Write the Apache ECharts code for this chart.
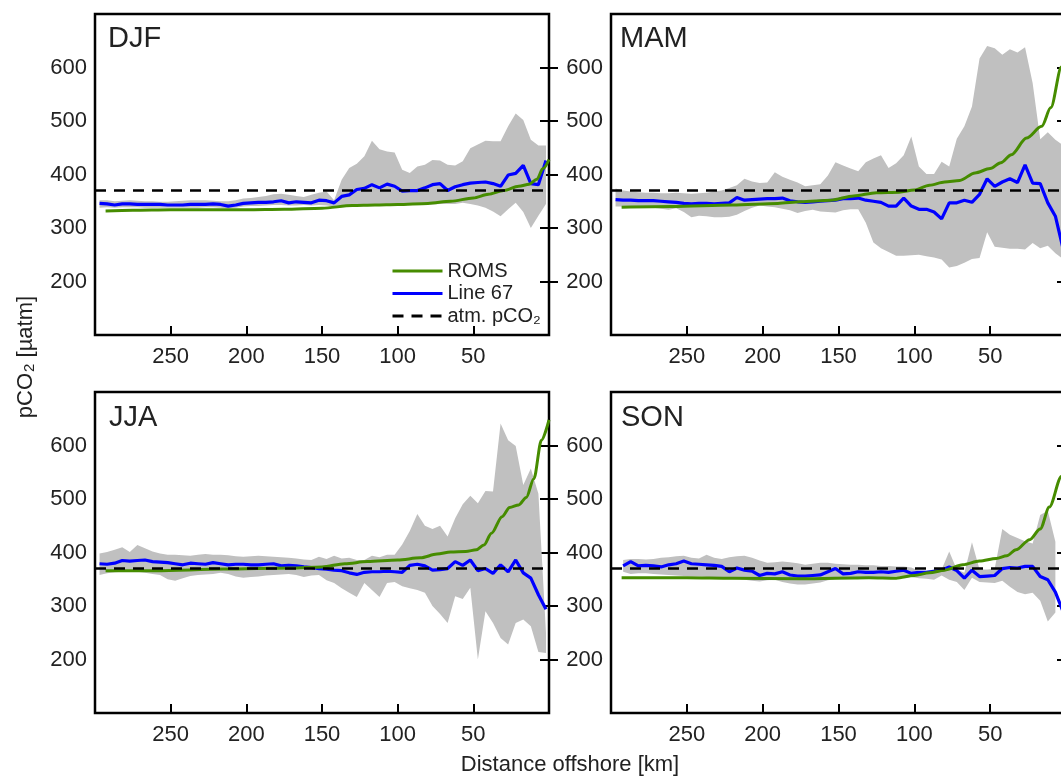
<!DOCTYPE html>
<html>
<head>
<meta charset="utf-8">
<title>pCO2 along Line 67</title>
<script src="https://cdn.jsdelivr.net/npm/echarts@6/dist/echarts.min.js"></script>
<style>
html, body { margin: 0; padding: 0; background: #fff; }
#chart { width: 1061px; height: 778px; }
</style>
</head>
<body>
<div id="chart"></div>
<script>
// distance offshore of the Line 67 samples [km]
var km = [297, 292, 287, 282, 277, 272, 267, 262, 257, 252,
          247, 242, 237, 232, 227, 222, 217, 212, 207, 202,
          197, 192, 187, 182, 177, 172, 167, 162, 157, 152,
          147, 142, 137, 132, 127, 122, 117, 112, 107, 102,
          97, 92, 87, 82, 77, 72, 67, 62, 57, 52,
          47, 42, 37, 32, 27, 22, 17, 12, 7, 2];

var atmPCO2 = 370;
var seasons = ['DJF', 'MAM', 'JJA', 'SON'];
var xTicks = [0, 50, 100, 150, 200, 250, 300];
var yTicks = [100, 200, 300, 400, 500, 600, 700];

// ---- DJF
var djfLine67 = [346, 345, 343, 345, 345, 344, 344, 344, 344, 343,
                 343, 343, 344, 344, 344, 345, 344, 341, 343, 346,
                 347, 348, 348, 349, 351, 347, 349, 348, 347, 352,
                 351, 347, 359, 362, 372, 374, 381, 375, 382, 378,
                 369, 370, 370, 375, 381, 383, 370, 377, 381, 384,
                 385, 386, 383, 378, 399, 402, 417, 383, 381, 426];
var djfHigh = [352, 352, 350, 351, 352, 351, 350, 350, 349, 349,
               350, 351, 352, 352, 352, 351, 350, 350, 352, 355,
               356, 358, 360, 363, 364, 362, 360, 358, 362, 366,
               368, 352, 390, 412, 420, 434, 463, 447, 443, 441,
               409, 403, 415, 418, 427, 426, 418, 417, 425, 449,
               456, 463, 462, 462, 490, 514, 502, 465, 454, 454];
var djfLow = [338, 339, 338, 339, 339, 339, 338, 338, 338, 338,
              338, 338, 338, 338, 339, 339, 338, 337, 338, 340,
              341, 341, 342, 343, 343, 342, 342, 343, 342, 343,
              342, 340, 342, 343, 343, 343, 344, 344, 344, 343,
              343, 343, 343, 343, 344, 345, 345, 345, 347, 345,
              342, 338, 331, 322, 335, 347, 330, 300, 323, 345];
var djfRomsKm = [293, 275, 250, 225, 200, 175, 150, 130, 115, 100, 80, 65, 50, 40, 30, 20, 13, 8, 4, 0];
var djfRoms = [332, 333, 334, 334, 334, 335, 337, 342, 343, 344, 346, 350, 356, 363, 370, 378, 382, 391, 411, 428];

// ---- MAM
var mamLine67 = [353, 352, 352, 351, 351, 351, 350, 349, 348, 346,
                 345, 346, 346, 345, 346, 347, 357, 352, 353, 354,
                 355, 355, 356, 351, 349, 348, 349, 350, 351, 352,
                 355, 355, 356, 352, 350, 348, 341, 341, 356, 341,
                 335, 335, 330, 317, 347, 347, 352, 348, 363, 392,
                 378, 386, 392, 385, 418, 384, 383, 347, 322, 262];
var mamHigh = [374, 370, 368, 367, 366, 366, 365, 365, 366, 365,
               364, 365, 366, 368, 370, 375, 380, 392, 387, 384,
               385, 404, 396, 390, 385, 378, 380, 382, 398, 423,
               417, 411, 406, 423, 430, 436, 412, 421, 436, 471,
               415, 401, 401, 424, 415, 467, 490, 527, 617, 640,
               636, 624, 634, 628, 638, 571, 466, 479, 465, 455];
var mamLow = [340, 340, 340, 339, 339, 338, 336, 334, 337, 330,
              320, 323, 322, 320, 320, 321, 325, 332, 338, 342,
              340, 339, 336, 333, 328, 332, 334, 331, 330, 329,
              333, 335, 335, 310, 273, 262, 255, 248, 248, 249,
              250, 247, 245, 241, 226, 229, 235, 242, 244, 292,
              265, 263, 261, 261, 260, 272, 262, 267, 253, 242];
var mamRomsKm = [293, 260, 220, 190, 175, 155, 140, 125, 110, 100, 90, 80, 70, 60, 50, 43, 36, 26, 16, 10, 3, 0];
var mamRoms = [339, 340, 343, 346, 349, 352, 360, 366, 367, 371, 380, 386, 389, 403, 411, 422, 437, 468, 490, 525, 601, 635];

// ---- JJA
var jjaLine67 = [379, 378, 380, 385, 384, 385, 386, 383, 382, 381,
                 379, 377, 380, 379, 378, 381, 379, 377, 378, 378,
                 377, 377, 378, 379, 375, 376, 375, 373, 372, 370,
                 369, 367, 366, 362, 359, 363, 364, 364, 365, 364,
                 363, 376, 378, 375, 367, 368, 370, 383, 376, 386,
                 366, 370, 361, 377, 364, 386, 362, 352, 321, 294];
var jjaHigh = [398, 401, 405, 410, 401, 414, 408, 402, 398, 396,
               396, 395, 394, 396, 397, 396, 396, 395, 393, 392,
               393, 394, 393, 392, 391, 390, 389, 387, 386, 392,
               388, 394, 389, 390, 386, 386, 394, 391, 396, 396,
               415, 440, 472, 450, 444, 450, 430, 464, 490, 506,
               492, 515, 514, 641, 610, 599, 526, 557, 510, 250];
var jjaLow = [358, 361, 363, 364, 365, 364, 362, 360, 358, 350,
              347, 352, 356, 358, 359, 360, 362, 360, 355, 353,
              354, 355, 357, 358, 359, 360, 358, 354, 357, 358,
              348, 343, 333, 325, 317, 343, 330, 317, 343, 345,
              337, 333, 330, 325, 300, 285, 268, 318, 313, 334,
              200, 290, 268, 240, 228, 268, 275, 262, 214, 212];
var jjaRomsKm = [293, 260, 215, 171, 150, 135, 120, 100, 85, 74, 65, 55, 48, 43, 38, 31, 26, 20, 15, 10, 5, 0];
var jjaRoms = [366, 366, 369, 371, 373, 379, 383, 386, 390, 397, 401, 402, 405, 414, 436, 467, 484, 489, 503, 538, 610, 648];

// ---- SON
var sonLine67 = [null, 375, 383, 375, 376, 375, 373, 377, 379, 384,
                 379, 378, 377, 376, 374, 364, 371, 367, 365, 357,
                 361, 360, 364, 358, 356, 356, 357, 358, 364, 370,
                 360, 361, 364, 363, 363, 364, 363, 365, 367, 361,
                 363, 363, 365, 367, 373, 366, 352, 367, 355, 356,
                 357, 370, 372, 371, 374, 374, 355, 349, 326, 290];
var sonHigh = [null, 386, 388, 388, 387, 388, 390, 391, 393, 394,
               390, 389, 396, 390, 388, 391, 393, 394, 390, 385,
               381, 382, 383, 382, 380, 377, 379, 381, 381, 379,
               378, 377, 377, 376, 376, 375, 375, 374, 374, 372,
               366, 366, 368, 368, 402, 368, 362, 419, 368, 368,
               370, 444, 433, 427, 421, 417, 470, 478, 420, null];
var sonLow = [null, 364, 360, 361, 361, 360, 359, 358, 357, 356,
              355, 355, 354, 353, 352, 352, 351, 349, 347, 346,
              348, 349, 345, 342, 340, 340, 342, 344, 348, 350,
              351, 351, 350, 352, 353, 353, 354, 355, 355, 354,
              352, 351, 349, 357, 349, 345, 330, 353, 345, 344,
              343, 347, 336, 326, 322, 325, 310, 271, 288, null];
var sonRomsKm = [293, 250, 220, 175, 130, 112, 100, 90, 80, 68, 57, 46, 39, 33, 24, 17, 11, 3, 0];
var sonRoms = [353, 353, 352, 351, 353, 352, 357, 362, 367, 377, 384, 389, 394, 405, 424, 444, 485, 542, 570];

var panels = [
  { line: djfLine67, high: djfHigh, low: djfLow, romsKm: djfRomsKm, roms: djfRoms },
  { line: mamLine67, high: mamHigh, low: mamLow, romsKm: mamRomsKm, roms: mamRoms },
  { line: jjaLine67, high: jjaHigh, low: jjaLow, romsKm: jjaRomsKm, roms: jjaRoms },
  { line: sonLine67, high: sonHigh, low: sonLow, romsKm: sonRomsKm, roms: sonRoms }
];

// layout of the four boxes (the right column runs past the page edge)
var boxes = [
  { left: 95, top: 14, width: 454, height: 321 },
  { left: 611, top: 14, width: 455, height: 321 },
  { left: 95, top: 392, width: 454, height: 321 },
  { left: 611, top: 392, width: 455, height: 321 }
];
var seasonPos = [[108, 39], [620, 39], [109, 418], [621, 418]];

var FONT = '"Liberation Sans", Arial, Helvetica, sans-serif';
var TEXT = '#222';
var GREEN = '#468c00';
var BLUE = '#0000ff';
var BAND = '#c0c0c0';
var ATM_NAME = 'atm. pCO\u2082';

function pairs(xs, ys) {
  var out = [];
  for (var i = 0; i < xs.length; i++) {
    if (ys[i] != null) out.push([xs[i], ys[i]]);
  }
  return out;
}

function bandSeries(i, low, high) {
  var pts = [];
  for (var j = 0; j < km.length; j++) {
    if (low[j] != null && high[j] != null) pts.push([km[j], low[j], high[j]]);
  }
  return {
    type: 'custom',
    xAxisIndex: i,
    yAxisIndex: 2 * i,
    silent: true,
    z: 1,
    data: pts,
    renderItem: function (params, api) {
      if (params.dataIndex !== 0) return null;
      var top = pts.map(function (p) { return api.coord([p[0], p[2]]); });
      var bottom = pts.slice().reverse().map(function (p) { return api.coord([p[0], p[1]]); });
      return {
        type: 'polygon',
        shape: { points: top.concat(bottom) },
        style: { fill: BAND, stroke: null }
      };
    }
  };
}

var grid = [], xAxis = [], yAxis = [], series = [], graphic = [];

boxes.forEach(function (b, i) {
  grid.push({
    left: b.left, top: b.top, width: b.width, height: b.height,
    show: true, borderColor: '#000', borderWidth: 2.5,
    backgroundColor: 'transparent',
    containLabel: false, outerBoundsMode: 'none'
  });
  xAxis.push({
    gridIndex: i, type: 'value', inverse: true,
    min: xTicks[0], max: xTicks[xTicks.length - 1], interval: 50,
    axisLine: { show: false },
    splitLine: { show: false },
    axisTick: { show: true, inside: true, length: 9, lineStyle: { color: '#000', width: 2 } },
    axisLabel: {
      showMinLabel: false, showMaxLabel: false, margin: 11,
      fontSize: 22, color: TEXT, fontFamily: FONT
    }
  });
  yAxis.push({
    gridIndex: i, type: 'value', position: 'left',
    min: yTicks[0], max: yTicks[yTicks.length - 1], interval: 100,
    axisLine: { show: false },
    splitLine: { show: false },
    axisTick: { show: true, inside: true, length: 9, lineStyle: { color: '#000', width: 2 } },
    axisLabel: {
      showMinLabel: false, showMaxLabel: false, margin: 8,
      fontSize: 22, color: TEXT, fontFamily: FONT
    }
  });
  yAxis.push({
    gridIndex: i, type: 'value', position: 'right',
    min: yTicks[0], max: yTicks[yTicks.length - 1], interval: 100,
    axisLine: { show: false },
    splitLine: { show: false },
    axisTick: { show: true, inside: true, length: 9, lineStyle: { color: '#000', width: 2 } },
    axisLabel: { show: false }
  });

  var p = panels[i];
  series.push(bandSeries(i, p.low, p.high));
  series.push({
    name: 'Line 67', type: 'line', xAxisIndex: i, yAxisIndex: 2 * i,
    data: pairs(km, p.line), symbol: 'none', z: 3,
    color: BLUE, lineStyle: { color: BLUE, width: 3.2 }
  });
  series.push({
    name: 'ROMS', type: 'line', xAxisIndex: i, yAxisIndex: 2 * i,
    data: pairs(p.romsKm, p.roms), symbol: 'none', z: 4,
    smooth: 0.3, smoothMonotone: 'x',
    color: GREEN, lineStyle: { color: GREEN, width: 3 }
  });
  series.push({
    name: ATM_NAME, type: 'line', xAxisIndex: i, yAxisIndex: 2 * i,
    data: [[xTicks[xTicks.length - 1], atmPCO2], [xTicks[0], atmPCO2]],
    symbol: 'none', z: 5,
    color: '#000', lineStyle: { color: '#000', width: 2.5, type: [11, 8] }
  });

  graphic.push({
    type: 'text', x: seasonPos[i][0], y: seasonPos[i][1],
    style: {
      text: seasons[i], fill: TEXT, fontSize: 29, fontFamily: FONT,
      align: 'left', verticalAlign: 'middle'
    }
  });
});

graphic.push({
  type: 'text', x: 26, y: 357, rotation: Math.PI / 2,
  style: {
    text: '{a|pCO}{s|2}{a| [µatm]}',
    align: 'center', verticalAlign: 'middle', fill: TEXT,
    fontSize: 22, fontFamily: FONT,
    rich: {
      a: { fontSize: 22, lineHeight: 22, verticalAlign: 'top', fontFamily: FONT, fill: TEXT },
      s: { fontSize: 15, lineHeight: 15, verticalAlign: 'bottom', padding: [11, 0, 0, 1], fontFamily: FONT, fill: TEXT }
    }
  }
});
graphic.push({
  type: 'text', x: 570, y: 765,
  style: {
    text: 'Distance offshore [km]', fill: TEXT, fontSize: 22, fontFamily: FONT,
    align: 'center', verticalAlign: 'middle'
  }
});

var chart = echarts.init(document.getElementById('chart'), null, { renderer: 'canvas' });
chart.setOption({
  animation: false,
  backgroundColor: '#fff',
  grid: grid,
  xAxis: xAxis,
  yAxis: yAxis,
  legend: {
    left: 391, top: 261, orient: 'vertical', padding: 0,
    itemWidth: 50, itemHeight: 14, itemGap: 2.5,
    data: ['ROMS', 'Line 67', ATM_NAME],
    selectedMode: false,
    itemStyle: { opacity: 0 },
    lineStyle: { width: 3 },
    textStyle: { fontSize: 20, lineHeight: 20, color: TEXT, fontFamily: FONT }
  },
  tooltip: { show: false },
  graphic: graphic,
  series: series
});
</script>
</body>
</html>
